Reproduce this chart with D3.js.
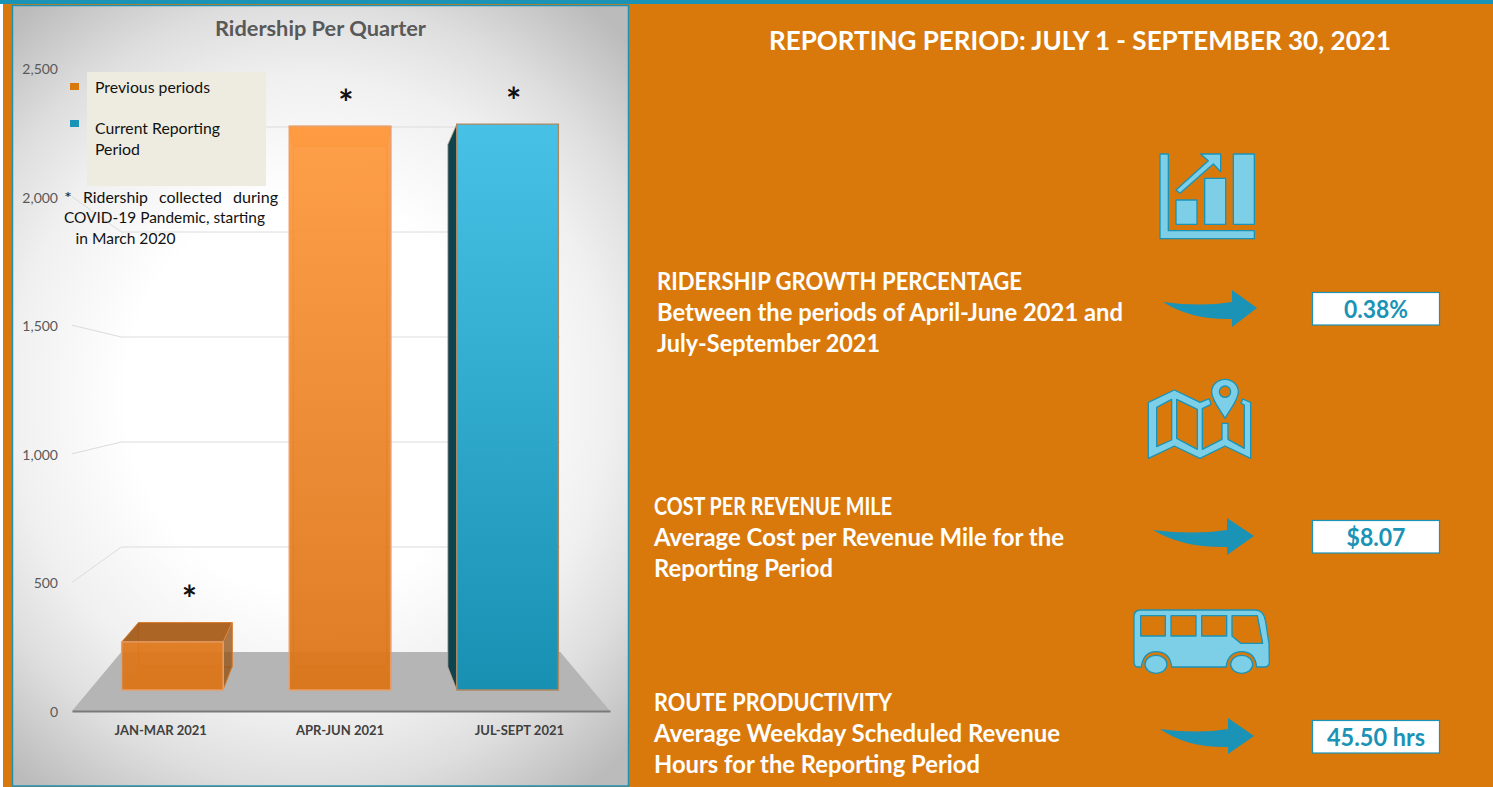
<!DOCTYPE html>
<html><head><meta charset="utf-8">
<script src="https://cdn.jsdelivr.net/npm/d3@7/dist/d3.min.js"></script>
<style>html,body{margin:0;padding:0;background:#fff;overflow:hidden}svg{display:block}text{font-family:Lato,"Open Sans",sans-serif}</style>
</head><body><svg id="c" width="1493" height="787"></svg>
<script>
const categories = ["JAN-MAR 2021", "APR-JUN 2021", "JUL-SEPT 2021"];
const ridership = [200, 2345, 2354];
const currentFlags = [false, false, true];
const yTicks = [0, 500, 1000, 1500, 2000, 2500];
const legendLabels = ["Previous periods", "Current Reporting", "Period"];
const metricHeads = ["RIDERSHIP GROWTH PERCENTAGE", "COST PER REVENUE MILE", "ROUTE PRODUCTIVITY"];
const metricLine2 = ["Between the periods of April-June 2021 and", "Average Cost per Revenue Mile for the", "Average Weekday Scheduled Revenue"];
const metricLine3 = ["July-September 2021", "Reporting Period", "Hours for the Reporting Period"];
const metricValues = ["0.38%", "$8.07", "45.50 hrs"];

const ORANGE="#D9790B", TEAL="#1A93B6", ICON="#7DCFE8";
const svg=d3.select("#c");
const defs=svg.append("defs");

function fitText(sel,w){ sel.attr("textLength",w).attr("lengthAdjust","spacingAndGlyphs"); return sel; }

// page background
svg.append("rect").attr("x",3).attr("width",1490).attr("height",787).attr("fill",ORANGE);
svg.append("rect").attr("width",1493).attr("height",4).attr("fill",TEAL);

// chart panel: white centre, stronger falloff towards top and bottom
const pg=defs.append("radialGradient").attr("id","panel").attr("gradientUnits","userSpaceOnUse")
  .attr("cx",0).attr("cy",0).attr("r",1).attr("gradientTransform","translate(310,395) scale(460,490)");
[[0,"#ffffff"],[.4,"#ffffff"],[.65,"#f0f0f0"],[.8,"#dedede"],[1.0,"#bbbbbb"]].forEach(s=>pg.append("stop").attr("offset",s[0]).attr("stop-color",s[1]));
svg.append("rect").attr("x",12.5).attr("y",5.5).attr("width",616).attr("height",780.5)
  .attr("fill","url(#panel)").attr("stroke",TEAL).attr("stroke-width",1.5);

// perspective model of the chart box
const x=d3.scaleBand().domain(categories).range([71,609]).paddingInner(.394).paddingOuter(.197);
const yFront=d3.scaleLinear().domain([0,2500]).range([711,68]);
const yBack=d3.scaleLinear().domain([0,2500]).range([652,127]);
const cx=340, shrink=.184;
const px=(ax,t)=>cx+(ax-cx)*(1-shrink*t);
const py=(v,t)=>yFront(v)+(yBack(v)-yFront(v))*t;
const P=(ax,v,t)=>[px(ax,t),py(v,t)];
const poly=pts=>"M"+pts.map(p=>p.join(",")).join("L")+"Z";
const T0=.356,T1=.746;

// floor
svg.append("path").attr("d",poly([P(72,0,0),P(72,0,1),P(610,0,1),P(610,0,0)])).attr("fill","#b5b5b5");

// gridlines
const grid=svg.append("g").attr("fill","none").attr("stroke","#dcdcdc").attr("stroke-width",1);
yTicks.filter(d=>d>0).forEach(v=>{
  grid.append("path").attr("d","M"+[P(72,v,0),P(72,v,1),P(610,v,1)].map(p=>p.join(",")).join("L"));
});

// axes
const gy=svg.append("g").attr("transform","translate(58,1)").call(d3.axisLeft(yFront).tickValues(yTicks).tickSize(0).tickPadding(0).tickFormat(d3.format(",")));
gy.select(".domain").remove();
gy.selectAll("text").attr("font-size",14).attr("fill","#595959").style("font-family","Lato");
const gx=svg.append("g").attr("transform","translate(0,711)").call(d3.axisBottom(x).tickSize(0).tickPadding(15));
gx.select(".domain").attr("stroke","#7a7a7a").attr("stroke-width",2).attr("transform","translate(1,0)");
gx.selectAll("text").attr("font-size",13).attr("font-weight",700).attr("fill","#404040").style("font-family","Lato");

// gradients for bars
function grad(id,a,b){const g=defs.append("linearGradient").attr("id",id).attr("gradientUnits","userSpaceOnUse").attr("x1",0).attr("x2",0).attr("y1",124).attr("y2",690);
 g.append("stop").attr("offset",0).attr("stop-color",a);g.append("stop").attr("offset",1).attr("stop-color",b);}
grad("gOrange","#FF9A40","#DB7417");
grad("gTeal","#47C2E6","#1890B2");

// bars
categories.forEach((c,i)=>{
  const v=ridership[i], l=x(c), r=l+x.bandwidth();
  const g=svg.append("g");
  const fb=[P(l,0,T0),P(r,0,T0),P(r,v,T0),P(l,v,T0)];
  if(currentFlags[i]){
    g.append("path").attr("d",poly([P(l,0,T0),P(l,0,T1),P(l,v,T1),P(l,v,T0)])).attr("fill","#0E4350").attr("stroke","#C9A88C").attr("stroke-width",.8);
    g.append("path").attr("d",poly(fb)).attr("fill","url(#gTeal)").attr("stroke","#B08860").attr("stroke-width",1.4);
  } else {
    const sideCol="#8a4e14";
    // back face & floor of the translucent box
    g.append("path").attr("d",poly([P(l,0,T1),P(r,0,T1),P(r,v,T1),P(l,v,T1)])).attr("fill","#E8801F").attr("fill-opacity",.25).attr("stroke","#C96A12").attr("stroke-width",1);
    g.append("path").attr("d",poly([P(l,0,T0),P(r,0,T0),P(r,0,T1),P(l,0,T1)])).attr("fill","#D9741A").attr("fill-opacity",.35);
    // top and sides
    g.append("path").attr("d",poly([P(l,v,T0),P(r,v,T0),P(r,v,T1),P(l,v,T1)])).attr("fill",i===0?"#A85F1C":"#FFA24E").attr("fill-opacity",.95).attr("stroke","#E5883A").attr("stroke-width",.8);
    g.append("path").attr("d",poly([P(r,0,T0),P(r,0,T1),P(r,v,T1),P(r,v,T0)])).attr("fill",sideCol).attr("fill-opacity",i===0?.7:.08).attr("stroke","#E5883A").attr("stroke-width",.8);
    g.append("path").attr("d",poly([P(l,0,T0),P(l,0,T1),P(l,v,T1),P(l,v,T0)])).attr("fill",sideCol).attr("fill-opacity",i===0?.1:.05);
    // translucent front
    g.append("path").attr("d",poly(fb)).attr("fill","url(#gOrange)").attr("fill-opacity",.92).attr("stroke","#E8A06A").attr("stroke-width",1.4);
  }
});

// asterisks
const starShift=[17,6,6];
categories.forEach((c,i)=>{
  const p=P(x(c)+x.bandwidth()/2,ridership[i],T0);
  svg.append("text").attr("x",p[0]+starShift[i]).attr("y",py(ridership[i],i===0?T1:T0)-(i===0?11:10))
    .attr("text-anchor","middle").attr("font-size",36).attr("font-weight",700).attr("fill","#111").text("*");
});

// title
fitText(svg.append("text").attr("x",320.5).attr("y",36).attr("text-anchor","middle").attr("font-size",21).attr("font-weight",700).attr("fill","#595959").text("Ridership Per Quarter"),211);

// legend
svg.append("rect").attr("x",87).attr("y",72).attr("width",179).attr("height",114).attr("fill","#EEECE1");
svg.append("rect").attr("x",70).attr("y",83).attr("width",9).attr("height",7).attr("fill",ORANGE);
svg.append("rect").attr("x",70).attr("y",120).attr("width",9).attr("height",7).attr("fill",TEAL);
const legW=[115,125,45], legY=[93,134,155];
legendLabels.forEach((t,i)=>fitText(svg.append("text").attr("x",95).attr("y",legY[i]).attr("font-size",16).attr("fill","#111").text(t),legW[i]));

// note
[["*",64,8],["Ridership",83,65],["collected",159,63],["during",233,45]].forEach(d=>
  fitText(svg.append("text").attr("x",d[1]).attr("y",203).attr("font-size",16).attr("fill","#111").text(d[0]),d[2]));
fitText(svg.append("text").attr("x",64).attr("y",223).attr("font-size",16).attr("fill","#111").text("COVID-19 Pandemic, starting"),201);
fitText(svg.append("text").attr("x",75.5).attr("y",244).attr("font-size",16).attr("fill","#111").text("in March 2020"),100);

// right side
fitText(svg.append("text").attr("x",769).attr("y",50).attr("font-size",27).attr("font-weight",700).attr("fill","#fff").text("REPORTING PERIOD: JULY 1 - SEPTEMBER 30, 2021"),622);

const textX=[657,654,654], baseY=[290,515,711];
const headW=[365,238,238], l2W=[466,410,406], l3W=[223,179,326];
metricHeads.forEach((h,i)=>{
  [[h,headW[i]],[metricLine2[i],l2W[i]],[metricLine3[i],l3W[i]]].forEach((d,k)=>{
    fitText(svg.append("text").attr("x",textX[i]).attr("y",baseY[i]+k*31).attr("font-size",24).attr("font-weight",700).attr("fill","#fff").text(d[0]),d[1]);
  });
});

// value boxes
const boxY=[292,520,720], valW=[64,59,98];
metricValues.forEach((t,i)=>{
  svg.append("rect").attr("x",1312.5).attr("y",boxY[i]+.5).attr("width",127).attr("height",32.5).attr("fill","#fff").attr("stroke",TEAL).attr("stroke-width",1.2);
  fitText(svg.append("text").attr("x",1376).attr("y",boxY[i]+26).attr("text-anchor","middle").attr("font-size",24).attr("font-weight",700).attr("fill",TEAL).text(t),valW[i]);
});

// swoosh arrows
const arrows=[
 {ox:1163,oy:302,bx:69,tip:94,top:-12,tipY:6,bot:25,inner:17},
 {ox:1153,oy:530,bx:74,tip:101,top:-12,tipY:6,bot:25,inner:17},
 {ox:1160,oy:729,bx:68,tip:94,top:-11,tipY:7,bot:25,inner:18}];
arrows.forEach(a=>{
 svg.append("path").attr("transform",`translate(${a.ox},${a.oy})`).attr("fill",TEAL)
  .attr("d",`M0,0 Q${a.bx*.55},5 ${a.bx},0 L${a.bx},${a.top} L${a.tip},${a.tipY} L${a.bx},${a.bot} L${a.bx},${a.inner} Q${a.bx*.4},${a.inner+1} 0,0Z`);
});

// icons (drawn in 3x coordinates)
function icon(ox,oy){return svg.append("g").attr("transform",`translate(${ox},${oy}) scale(${1/3})`).attr("fill",ICON).attr("stroke",TEAL).attr("stroke-width",4).attr("fill-rule","evenodd").attr("stroke-linejoin","round");}
const i1=icon(1140,140);
i1.append("path").attr("d","M60,42H85V272H343V296H60Z");
i1.append("path").attr("d","M108,180H171V253H108Z");
i1.append("path").attr("d","M194,115H257V253H194Z");
i1.append("path").attr("d","M280,42H343V253H280Z");
i1.append("path").attr("d","M108,150L205,62L182,42H242V95L220,72L120,160Z");
const i2=icon(1130,370);
i2.append("path").attr("d","M55,97L133,60L210,97L238,86L243,103L217,116V238L276,208V160H294V208L343,235V105L333,100L338,87L362,97V265L285,228L210,265L133,228L55,265Z M80,112L125,88V210L80,230Z M140,88L202,118V238L140,205Z");
i2.append("path").attr("d","M285,145C270,118 245,90 245,66A40,38 0 0 1 325,66C325,90 300,118 285,145Z M302,65A17,17 0 1 0 268,65A17,17 0 1 0 302,65Z");
const i3=icon(1120,600);
i3.append("path").attr("d","M42,50Q42,30 62,30H405Q430,30 436,60L447,130L448,185Q448,201 432,201H410Q405,155 365,155Q325,155 318,201H155Q150,155 108,155Q70,155 64,201H55Q42,201 42,185Z M62,47H136V108H62Z M153,47H228V108H153Z M245,47H320V108H245Z M336,47H412L428,130H362L336,108Z");
i3.append("ellipse").attr("cx",108).attr("cy",193).attr("rx",33).attr("ry",27);
i3.append("ellipse").attr("cx",365).attr("cy",193).attr("rx",33).attr("ry",27);
</script></body></html>
